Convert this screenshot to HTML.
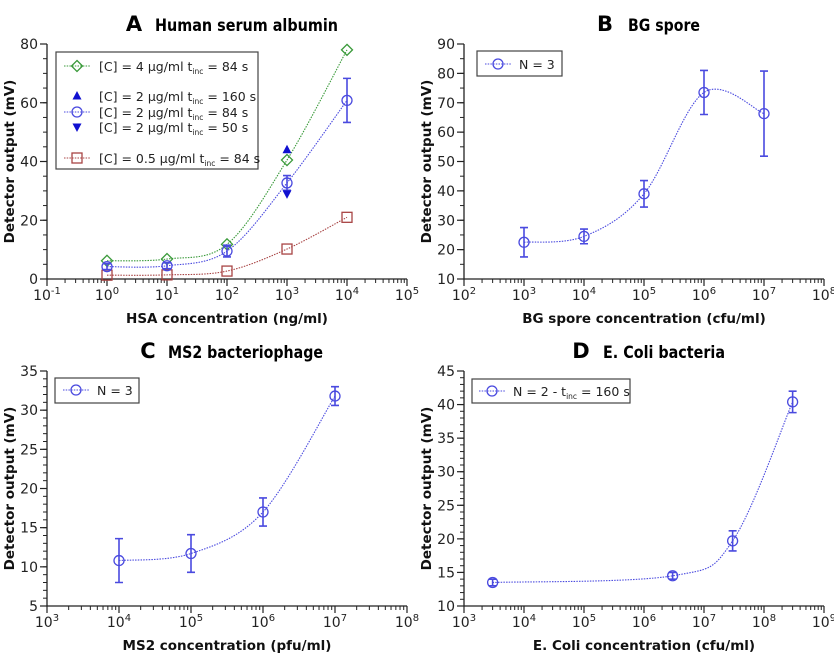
<!DOCTYPE html>
<html><head><meta charset="utf-8"><style>
html,body{margin:0;padding:0;background:#fff;}
svg{display:block;font-family:"DejaVu Sans","Liberation Sans",sans-serif;}
</style></head><body>
<svg id="fig" width="834" height="655" viewBox="0 0 834 655" xmlns="http://www.w3.org/2000/svg"></svg>
<script>
// ---- data ----
const aX = [1, 10, 100, 1000, 10000];
const aGreen = [6.2, 6.8, 11.8, 40.5, 78];
const aBlue = [4.2, 4.5, 9.5, 32.7, 60.8];
const aBlueErr = [1.0, 1.0, 2.0, 2.5, 7.5];
const aRed = [1.3, 1.4, 2.7, 10.2, 21];
const aUpX = [1000]; const aUp = [44];
const aDownX = [1000]; const aDown = [29];
const bX = [1e3, 1e4, 1e5, 1e6, 1e7];
const bY = [22.5, 24.5, 39, 73.5, 66.3];
const bErr = [5, 2.5, 4.5, 7.5, 14.5];
const cX = [1e4, 1e5, 1e6, 1e7];
const cY = [10.8, 11.7, 17, 31.8];
const cErr = [2.8, 2.4, 1.8, 1.2];
const dX = [3e3, 3e6, 3e7, 3e8];
const dY = [13.5, 14.5, 19.7, 40.4];
const dErr = [0.5, 0.5, 1.5, 1.6];

const NS = "http://www.w3.org/2000/svg";
const svg = document.getElementById('fig');
function mk(tag, attrs, parent, text){
  const e = document.createElementNS(NS, tag);
  for (const k in attrs) e.setAttribute(k, attrs[k]);
  if (text !== undefined) e.textContent = text;
  (parent || svg).appendChild(e);
  return e;
}
function supText(parent, x, y, base, exp, anchor, size){
  const t = mk('text', {x:x, y:y, 'text-anchor':anchor||'middle', 'font-size':size||14, fill:'#222'}, parent);
  const s1 = document.createElementNS(NS,'tspan'); s1.textContent = base; t.appendChild(s1);
  const s2 = document.createElementNS(NS,'tspan'); s2.setAttribute('dy','-6'); s2.setAttribute('font-size','10'); s2.textContent = exp; t.appendChild(s2);
  return t;
}
function spline(pts){
  let d = 'M' + pts[0][0] + ',' + pts[0][1];
  for (let i = 0; i < pts.length - 1; i++){
    const p0 = pts[i-1] || pts[i], p1 = pts[i], p2 = pts[i+1], p3 = pts[i+2] || pts[i+1];
    const c1 = [p1[0] + (p2[0]-p0[0])/6, p1[1] + (p2[1]-p0[1])/6];
    const c2 = [p2[0] - (p3[0]-p1[0])/6, p2[1] - (p3[1]-p1[1])/6];
    d += ' C' + c1[0] + ',' + c1[1] + ' ' + c2[0] + ',' + c2[1] + ' ' + p2[0] + ',' + p2[1];
  }
  return d;
}
function panel(o){
  const g = mk('g', {}, svg);
  
  
  const sx = v => o.x0 + (Math.log10(v) - o.dmin) / (o.dmax - o.dmin) * (o.x1 - o.x0);
  const sy = v => o.y0 - (v - o.ymin) / (o.ymax - o.ymin) * (o.y0 - o.y1);
  const ax = mk('path', {d:'M'+o.x0+','+o.y1+' L'+o.x0+','+o.y0+' L'+o.x1+','+o.y0, stroke:'#222', 'stroke-width':1.3, fill:'none'}, g);
  
  
  for (let d = o.dmin; d <= o.dmax; d++){
    const X = o.x0 + (d - o.dmin) / (o.dmax - o.dmin) * (o.x1 - o.x0);
    mk('line', {x1:X, x2:X, y1:o.y0, y2:o.y0+7, stroke:'#222', 'stroke-width':1.2}, g);
    const t = supText(g, X, o.y0+21, '10', String(d));
    
    
    if (d < o.dmax) for (let m = 2; m <= 9; m++){
      const Xm = sx(Math.pow(10, d) * m);
      mk('line', {x1:Xm, x2:Xm, y1:o.y0, y2:o.y0+4, stroke:'#222', 'stroke-width':1}, g);
    }
  }
  for (let v = o.ymin; v <= o.ymax + 1e-9; v += o.ystep){
    const Y = sy(v);
    mk('line', {x1:o.x0-7, x2:o.x0, y1:Y, y2:Y, stroke:'#222', 'stroke-width':1.2}, g);
    const t = mk('text', {x:o.x0-9, y:Y+5, 'text-anchor':'end', 'font-size':14, fill:'#222'}, g, String(v));
    
    
  }
  for (let v = o.ymin; v <= o.ymax + 1e-9; v += o.yminor){
    const Y = sy(v);
    mk('line', {x1:o.x0-4, x2:o.x0, y1:Y, y2:Y, stroke:'#222', 'stroke-width':1}, g);
  }
  const tl = mk('text', {x:o.lx, y:o.ty, 'font-size':21, 'font-weight':'bold', fill:'#000', 'text-anchor':'middle'}, g, o.letter);
  
  
  const tt = mk('text', {x:o.tx, y:o.ty, 'font-size':17, 'font-weight':'bold', fill:'#000', 'text-anchor':'start', textLength:o.tw, lengthAdjust:'spacingAndGlyphs'}, g, o.title);
  
  
  const xl = mk('text', {x:(o.x0+o.x1)/2, y:o.y0+44, 'font-size':13.5, 'font-weight':'bold', 'text-anchor':'middle', fill:'#111'}, g, o.xlabel);
  
  
  const yc = (o.y0 + o.y1)/2;
  const yl = mk('text', {x:o.ylx, y:yc, 'font-size':13.5, 'font-weight':'bold', 'text-anchor':'middle', fill:'#111', transform:'rotate(-90 '+o.ylx+' '+yc+')'}, g, 'Detector output (mV)');
  
  
  return {g, sx, sy};
}
function series(p, xs, ys, color, marker, name, errs){
  const g = mk('g', {}, p.g);
  
  
  const pts = xs.map((x,i) => [p.sx(x), p.sy(ys[i])]);
  mk('path', {d:spline(pts), fill:'none', stroke:color, 'stroke-width':1.1, 'stroke-dasharray':'1.5 1.2'}, g);
  if (errs) xs.forEach((x,i) => {
    const X = p.sx(x), Ya = p.sy(ys[i]+errs[i]), Yb = p.sy(ys[i]-errs[i]);
    const e = mk('path', {d:'M'+X+','+Ya+' L'+X+','+Yb+' M'+(X-4)+','+Ya+' L'+(X+4)+','+Ya+' M'+(X-4)+','+Yb+' L'+(X+4)+','+Yb, stroke:color, 'stroke-width':1.6, fill:'none'}, g);
    
    
  });
  pts.forEach(pt => {
    const m = drawMarker(g, pt[0], pt[1], marker, color);
    
    
  });
}
function drawMarker(g, X, Y, marker, color){
  if (marker === 'circle') return mk('circle', {cx:X, cy:Y, r:5, fill:'none', stroke:color, 'stroke-width':1.3}, g);
  if (marker === 'square') return mk('rect', {x:X-5, y:Y-5, width:10, height:10, fill:'none', stroke:color, 'stroke-width':1.3}, g);
  if (marker === 'diamond') return mk('path', {d:'M'+X+','+(Y-5.5)+' L'+(X+5.5)+','+Y+' L'+X+','+(Y+5.5)+' L'+(X-5.5)+','+Y+'Z', fill:'none', stroke:color, 'stroke-width':1.3}, g);
  if (marker === 'up') return mk('path', {d:'M'+X+','+(Y-5)+' L'+(X+4.5)+','+(Y+3.5)+' L'+(X-4.5)+','+(Y+3.5)+'Z', fill:color}, g);
  return mk('path', {d:'M'+X+','+(Y+5)+' L'+(X+4.5)+','+(Y-3.5)+' L'+(X-4.5)+','+(Y-3.5)+'Z', fill:color}, g);
}
function legend(parent, x, y, w, h, rows){
  const g = mk('g', {}, parent);
  
  
  mk('rect', {x:x, y:y, width:w, height:h, fill:'#fff', stroke:'#444', 'stroke-width':1.2}, g);
  rows.forEach(r => {
    const e = mk('g', {}, g);
    
    
    if (r.line) mk('line', {x1:r.sx-13, x2:r.sx+13, y1:r.y, y2:r.y, stroke:r.color, 'stroke-width':1.1, 'stroke-dasharray':'1.5 1.2'}, e);
    drawMarker(e, r.sx, r.y, r.marker, r.color);
    const t = mk('text', {x:r.tx, y:r.y+5, 'font-size':12.5, fill:'#222'}, e);
    r.parts.forEach(pt => {
      const s = document.createElementNS(NS,'tspan');
      s.textContent = pt[0];
      s.setAttribute('font-size', pt[2] || '12.5');
      if (pt[1]) s.setAttribute('dy', pt[1]);
      t.appendChild(s);
    });
  });
}
const GREEN = '#3a9a3a', BLUE = '#4a4adf', RED = '#a84444', DBLUE = '#1010d0';
function tinc(pre, post){ return [[pre],['inc','3','7.5'],[' = ' + post,'-3','12.5']]; }

// Panel A
const pA = panel({name:'panel-a-hsa', x0:47, x1:407, y0:279, y1:44, dmin:-1, dmax:5, ymin:0, ymax:80, ystep:20, yminor:5,
  lx:134, tx:155, tw:183, ty:31, letter:'A', title:'Human serum albumin', xlabel:'HSA concentration (ng/ml)', ylx:14});
series(pA, aX, aGreen, GREEN, 'diamond', 'series-4ug');
series(pA, aX, aRed, RED, 'square', 'series-0-5ug');
series(pA, aX, aBlue, BLUE, 'circle', 'series-2ug-84s', aBlueErr);
aUpX.forEach((x,i) => { const m = drawMarker(pA.g, pA.sx(x), pA.sy(aUp[i]), 'up', DBLUE);   });
aDownX.forEach((x,i) => { const m = drawMarker(pA.g, pA.sx(x), pA.sy(aDown[i]), 'down', DBLUE);   });
legend(pA.g, 56, 52, 202, 117, [
  {y:66, sx:77, tx:99, color:GREEN, marker:'diamond', line:true, parts:tinc('[C] = 4 µg/ml t','84 s')},
  {y:96, sx:77, tx:99, color:DBLUE, marker:'up', line:false, parts:tinc('[C] = 2 µg/ml t','160 s')},
  {y:112, sx:77, tx:99, color:BLUE, marker:'circle', line:true, parts:tinc('[C] = 2 µg/ml t','84 s')},
  {y:127, sx:77, tx:99, color:DBLUE, marker:'down', line:false, parts:tinc('[C] = 2 µg/ml t','50 s')},
  {y:158, sx:77, tx:99, color:RED, marker:'square', line:true, parts:tinc('[C] = 0.5 µg/ml t','84 s')}
]);

// Panel B
const pB = panel({name:'panel-b-bg-spore', x0:464, x1:824, y0:279, y1:44, dmin:2, dmax:8, ymin:10, ymax:90, ystep:10, yminor:5,
  lx:605, tx:628, tw:72, ty:31, letter:'B', title:'BG spore', xlabel:'BG spore concentration (cfu/ml)', ylx:431});
series(pB, bX, bY, BLUE, 'circle', 'series-bg-n3', bErr);
legend(pB.g, 477, 51, 85, 25, [{y:64, sx:498, tx:519, color:BLUE, marker:'circle', line:true, parts:[['N = 3']]}]);

// Panel C
const pC = panel({name:'panel-c-ms2', x0:47, x1:407, y0:606, y1:371, dmin:3, dmax:8, ymin:5, ymax:35, ystep:5, yminor:1,
  lx:148, tx:168, tw:155, ty:358, letter:'C', title:'MS2 bacteriophage', xlabel:'MS2 concentration (pfu/ml)', ylx:14});
series(pC, cX, cY, BLUE, 'circle', 'series-ms2-n3', cErr);
legend(pC.g, 55, 378, 84, 25, [{y:390, sx:76, tx:97, color:BLUE, marker:'circle', line:true, parts:[['N = 3']]}]);

// Panel D
const pD = panel({name:'panel-d-ecoli', x0:464, x1:824, y0:606, y1:371, dmin:3, dmax:9, ymin:10, ymax:45, ystep:5, yminor:1,
  lx:581, tx:603, tw:122, ty:358, letter:'D', title:'E. Coli bacteria', xlabel:'E. Coli concentration (cfu/ml)', ylx:431});
series(pD, dX, dY, BLUE, 'circle', 'series-ecoli-n2', dErr);
legend(pD.g, 472, 379, 158, 24, [{y:391, sx:492, tx:513, color:BLUE, marker:'circle', line:true, parts:tinc('N = 2 - t','160 s')}]);
</script>
</body></html>
